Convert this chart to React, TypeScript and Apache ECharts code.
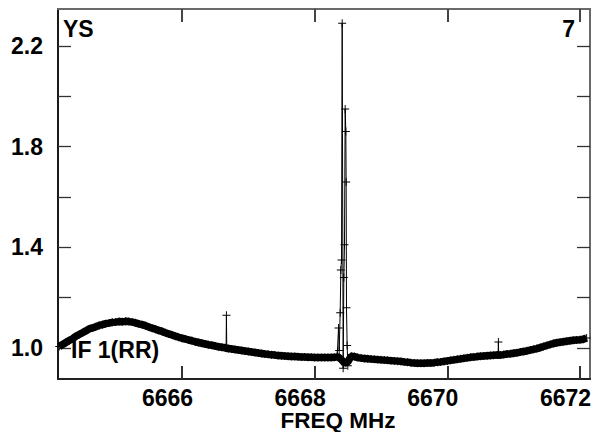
import React, { useEffect, useRef } from "react";
import * as echarts from "echarts";

// Baseline channels: 6664.15 .. 6672.10 MHz, step 0.05 MHz
const baseStart = 6664.15;
const baseStep = 0.05;
const baseValues: number[] = [
  1.006, 1.014, 1.022, 1.030, 1.037, 1.047, 1.054, 1.061, 1.068, 1.076, 1.080, 1.085, 1.090, 1.093, 1.097, 1.099, 1.102, 1.103, 1.105, 1.104,
  1.106, 1.105, 1.103, 1.100, 1.096, 1.093, 1.089, 1.084, 1.079, 1.075, 1.070, 1.066, 1.061, 1.056, 1.052, 1.047, 1.043, 1.039, 1.036, 1.032,
  1.029, 1.025, 1.022, 1.019, 1.016, 1.013, 1.011, 1.008, 1.005, 1.003, 1.001, 0.998, 0.996, 0.994, 0.992, 0.990, 0.988, 0.986, 0.984, 0.982,
  0.980, 0.978, 0.976, 0.975, 0.973, 0.972, 0.970, 0.969, 0.968, 0.967, 0.966, 0.966, 0.965, 0.964, 0.964, 0.963, 0.963, 0.962, 0.962, 0.962,
  0.962, 0.962, 0.962, 0.963, 0.965, 0.955, 0.940, 0.945, 0.968, 0.966, 0.962, 0.960, 0.958, 0.957, 0.956, 0.955, 0.954, 0.953, 0.952, 0.951,
  0.950, 0.949, 0.948, 0.947, 0.945, 0.944, 0.942, 0.941, 0.940, 0.940, 0.940, 0.941, 0.941, 0.942, 0.944, 0.945, 0.947, 0.949, 0.951, 0.953,
  0.955, 0.957, 0.959, 0.961, 0.963, 0.964, 0.966, 0.967, 0.968, 0.969, 0.970, 0.971, 0.972, 0.972, 0.974, 0.976, 0.977, 0.979, 0.981, 0.984,
  0.986, 0.989, 0.992, 0.995, 0.998, 1.002, 1.006, 1.010, 1.014, 1.018, 1.021, 1.023, 1.025, 1.027, 1.029, 1.031, 1.032, 1.033, 1.035, 1.040,
];

// Narrow features (finer channel positions)
const spikeFreqs = [
  6666.665, 6666.67, 6666.675,
  6668.34, 6668.36, 6668.37, 6668.385, 6668.395, 6668.405, 6668.415, 6668.43, 6668.44, 6668.45, 6668.46, 6668.47, 6668.475, 6668.48, 6668.49, 6668.50,
  6670.765, 6670.77, 6670.775,
];
const spikeValues = [
  1.0, 1.13, 0.999,
  0.97, 1.08, 0.99, 1.14, 1.31, 1.35, 2.29, 0.92, 1.28, 1.41, 1.95, 1.86, 1.66, 1.16, 1.01, 0.93,
  0.972, 1.024, 0.972,
];

const xTicks = [6666, 6668, 6670, 6672];
const yTicks = [1.0, 1.2, 1.4, 1.6, 1.8, 2.0, 2.2];
const yLabels = [1.0, 1.4, 1.8, 2.2];

const X_MIN = 6664.131;
const X_MAX = 6672.151;
const Y_MIN = 0.877;
const Y_MAX = 2.347;

const FONT = "'Liberation Sans', Arial, sans-serif";
const CROSS = "path://M-0.12,-1H0.12V-0.12H1V0.12H0.12V1H-0.12V0.12H-1V-0.12H-0.12Z";

export default function App() {
  const ref = useRef<HTMLDivElement>(null);
  useEffect(() => {
    if (!ref.current) return;
    const chart = echarts.init(ref.current, null, { renderer: "svg" });

    const freqOf = (i: number) => Math.round((baseStart + i * baseStep) * 1000) / 1000;
    const basePts = baseValues.map((v, i) => [freqOf(i), v]);
    const pts: [number, number][] = [];
    baseValues.forEach((v, i) => {
      const f = freqOf(i);
      // channels replaced by the finely sampled maser feature
      if (f > 6668.32 && f < 6668.52) return;
      pts.push([f, v]);
    });
    spikeFreqs.forEach((f, i) => pts.push([f, spikeValues[i]]));
    pts.sort((a, b) => a[0] - b[0]);

    const labelStyle = { fontFamily: FONT, fontWeight: "bold" as const, fontSize: 23, color: "#000" };

    chart.setOption({
      animation: false,
      backgroundColor: "#fff",
      grid: {
        left: 58,
        right: 5,
        top: 9,
        bottom: 53,
        show: true,
        borderColor: "#6a6a6a",
        borderWidth: 2,
        backgroundColor: "transparent",
        outerBoundsMode: "none",
        containLabel: false,
      },
      xAxis: [
        {
          type: "value",
          position: "bottom",
          min: X_MIN,
          max: X_MAX,
          axisLine: { show: true, onZero: false, lineStyle: { color: "#222", width: 2 } },
          axisTick: { show: true, inside: true, length: 13, customValues: xTicks, lineStyle: { color: "#333", width: 2 } },
          axisLabel: {
            show: true,
            customValues: xTicks,
            margin: 7,
            padding: [0, 29, 0, 0],
            ...labelStyle,
            formatter: (v: number) => String(Math.round(v)),
          },
          splitLine: { show: false },
        },
        {
          type: "value",
          position: "top",
          min: X_MIN,
          max: X_MAX,
          axisLine: { show: true, onZero: false, lineStyle: { color: "#6a6a6a", width: 2 } },
          axisTick: { show: true, inside: true, length: 13, customValues: xTicks, lineStyle: { color: "#444", width: 2 } },
          axisLabel: { show: false },
          splitLine: { show: false },
        },
      ],
      yAxis: [
        {
          type: "value",
          position: "left",
          min: Y_MIN,
          max: Y_MAX,
          axisLine: { show: true, onZero: false, lineStyle: { color: "#000", width: 1.5 } },
          axisTick: { show: true, inside: true, length: 13, customValues: yTicks, lineStyle: { color: "#333", width: 1.3 } },
          axisLabel: {
            show: true,
            customValues: yLabels,
            margin: 15,
            ...labelStyle,
            formatter: (v: number) => v.toFixed(1),
          },
          splitLine: { show: false },
        },
        {
          type: "value",
          position: "right",
          min: Y_MIN,
          max: Y_MAX,
          axisLine: { show: true, onZero: false, lineStyle: { color: "#6a6a6a", width: 2 } },
          axisTick: { show: true, inside: true, length: 13, customValues: yTicks, lineStyle: { color: "#333", width: 1.3 } },
          axisLabel: { show: false },
          splitLine: { show: false },
        },
      ],
      series: [
        {
          type: "line",
          xAxisIndex: 0,
          yAxisIndex: 0,
          data: basePts,
          showSymbol: false,
          symbol: "none",
          lineStyle: { color: "#000", width: 7.5 },
          silent: true,
          z: 2,
        },
        {
          type: "line",
          xAxisIndex: 0,
          yAxisIndex: 0,
          data: pts,
          symbol: CROSS,
          symbolSize: 8,
          showSymbol: true,
          itemStyle: { color: "#000" },
          lineStyle: { color: "#000", width: 1 },
          z: 3,
        },
      ],
      graphic: [
        { type: "text", z: 100, style: { text: "YS", x: 63, y: 28.5, textAlign: "left", textVerticalAlign: "middle", font: `bold 23px ${FONT}`, fill: "#000" } },
        { type: "text", z: 100, style: { text: "7", x: 575, y: 28.5, textAlign: "right", textVerticalAlign: "middle", font: `bold 23px ${FONT}`, fill: "#000" } },
        { type: "text", z: 100, style: { text: "IF 1(RR)", x: 71, y: 350, textAlign: "left", textVerticalAlign: "middle", font: `bold 23px ${FONT}`, fill: "#000" } },
        { type: "text", z: 100, style: { text: "FREQ MHz", x: 338, y: 420, textAlign: "center", textVerticalAlign: "middle", font: `bold 22.5px ${FONT}`, fill: "#000" } },
      ],
    });
    return () => chart.dispose();
  }, []);
  return <div ref={ref} style={{ width: 595, height: 432, position: "absolute", left: 0, top: 0 }} />;
}
